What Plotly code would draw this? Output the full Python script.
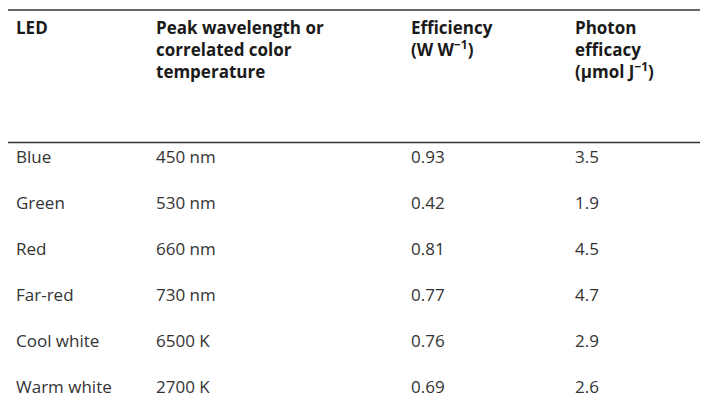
import plotly.graph_objects as go

headers = ["LED", "Peak wavelength or<br>correlated color<br>temperature",
           "Efficiency<br>(W W<sup>\u22121</sup>)", "Photon<br>efficacy<br>(\u00b5mol J<sup>\u22121</sup>)"]
leds = ["Blue", "Green", "Red", "Far-red", "Cool white", "Warm white"]
peaks = ["450 nm", "530 nm", "660 nm", "730 nm", "6500 K", "2700 K"]
efficiency = ["0.93", "0.42", "0.81", "0.77", "0.76", "0.69"]
efficacy = ["3.5", "1.9", "4.5", "4.7", "2.9", "2.6"]

fig = go.Figure(go.Table(
    columnwidth=[140, 255, 164, 149],
    header=dict(
        values=["<b>%s</b>" % h for h in headers],
        align="left", fill_color="white", line_color="white",
        font=dict(family="Open Sans", size=17, color="#1a1a1a"),
        height=134,
    ),
    cells=dict(
        values=[leds, peaks, efficiency, efficacy],
        align="left", fill_color="white", line_color="white",
        font=dict(family="Open Sans", size=17, color="#333333"),
        height=46,
    ),
    domain=dict(x=[0, 1], y=[0, 1]),
))

for y in [0.995, 0.68, 0.005]:
    fig.add_shape(type="line", xref="paper", yref="paper", x0=0, x1=1, y0=y, y1=y,
                  line=dict(color="#333333", width=1.5))

fig.update_layout(width=708, height=420, margin=dict(l=0, r=0, t=0, b=0),
                  paper_bgcolor="white")
fig.write_html("out.html")
